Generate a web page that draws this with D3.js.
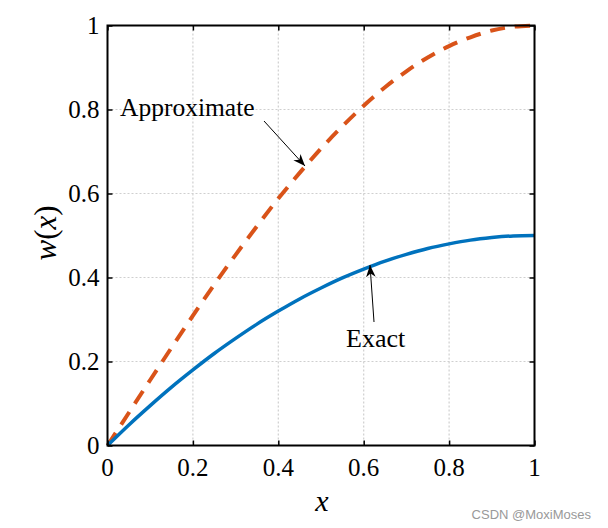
<!DOCTYPE html>
<html><head><meta charset="utf-8">
<script src="https://cdn.jsdelivr.net/npm/d3@7"></script>
<style>html,body{margin:0;padding:0;background:#fff;}</style>
</head><body>
<svg id="c" width="608" height="528"></svg>
<script>
const xVals = [0,0.05,0.1,0.15,0.2,0.25,0.3,0.35,0.4,0.45,0.5,0.55,0.6,0.65,0.7,0.75,0.8,0.85,0.9,0.95,1];
const exactVals = [0,0.049,0.095,0.139,0.18,0.219,0.255,0.289,0.32,0.349,0.375,0.399,0.42,0.439,0.455,0.469,0.48,0.489,0.495,0.499,0.5];
const approxVals = [0,0.078,0.156,0.233,0.309,0.383,0.454,0.522,0.588,0.649,0.707,0.76,0.809,0.853,0.891,0.924,0.951,0.972,0.988,0.997,1];
const xTicks = [0,0.2,0.4,0.6,0.8,1];
const yTicks = [0,0.2,0.4,0.6,0.8,1];
const tickLabels = ["0","0.2","0.4","0.6","0.8","1"];

const svg = d3.select("#c");
const L=107.5, R=534.5, T=25.5, B=445.5;
const x = d3.scaleLinear().domain([0,1]).range([L,R]);
const y = d3.scaleLinear().domain([0,1]).range([B,T]);
const serif = "Liberation Serif, DejaVu Serif, serif";

// grid
const g = svg.append("g");
g.selectAll(".gx").data(xTicks.slice(1,-1)).join("line")
  .attr("x1",d=>x(d)).attr("x2",d=>x(d)).attr("y1",T).attr("y2",B)
  .attr("stroke","#cfcfcf").attr("stroke-width",1.2).attr("stroke-dasharray","2,2");
g.selectAll(".gy").data(yTicks.slice(1,-1)).join("line")
  .attr("y1",d=>y(d)).attr("y2",d=>y(d)).attr("x1",L).attr("x2",R)
  .attr("stroke","#cfcfcf").attr("stroke-width",1.2).attr("stroke-dasharray","2,2");

// lines
const line = (vals)=>d3.line().x((d,i)=>x(xVals[i])).y(d=>y(d)).curve(d3.curveCatmullRom)(vals);
svg.append("path").attr("d",line(approxVals)).attr("fill","none")
  .attr("stroke","#D95319").attr("stroke-width",4).attr("stroke-dasharray","15,10");
svg.append("path").attr("d",line(exactVals)).attr("fill","none")
  .attr("stroke","#0072BD").attr("stroke-width",3.5);

// axes
const ax = (gen, tr) => {
  const a = svg.append("g").attr("transform",tr).call(gen);
  a.select(".domain").remove();
  a.selectAll("line").attr("stroke","#000").attr("stroke-width",1.5);
  a.selectAll("text").remove();
  return a;
};
ax(d3.axisBottom(x).tickValues(xTicks).tickSize(-5), `translate(0,${B})`);
ax(d3.axisTop(x).tickValues(xTicks).tickSize(-5), `translate(0,${T})`);
ax(d3.axisLeft(y).tickValues(yTicks).tickSize(-5), `translate(${L},0)`);
ax(d3.axisRight(y).tickValues(yTicks).tickSize(-5), `translate(${R},0)`);
svg.append("rect").attr("x",L).attr("y",T).attr("width",R-L).attr("height",B-T)
  .attr("fill","none").attr("stroke","#000").attr("stroke-width",2);

// tick labels
svg.selectAll(".xl").data(xTicks).join("text")
  .attr("x",d=>x(d)).attr("y",B+30).attr("text-anchor","middle")
  .attr("font-family",serif).attr("font-size",25).text((d,i)=>tickLabels[i]);
svg.selectAll(".yl").data(yTicks).join("text")
  .attr("x",L-8).attr("y",d=>y(d)+8).attr("text-anchor","end")
  .attr("font-family",serif).attr("font-size",25).text((d,i)=>tickLabels[i]);

// axis titles
svg.append("text").attr("x",322).attr("y",511).attr("text-anchor","middle")
  .attr("font-family",serif).attr("font-style","italic").attr("font-size",30).text("x");
svg.append("text").attr("transform","translate(56,233) rotate(-90)").attr("text-anchor","middle")
  .attr("font-family",serif).attr("font-size",31)
  .html("<tspan font-style='italic'>w</tspan>(<tspan font-style='italic'>x</tspan>)");

// annotations
const defs = svg.append("defs");
defs.append("marker").attr("id","ah").attr("viewBox","0 0 10 10").attr("refX",10).attr("refY",5)
  .attr("markerWidth",12).attr("markerHeight",12).attr("markerUnits","userSpaceOnUse").attr("orient","auto")
  .append("path").attr("d","M0,1 L10,5 L0,9 L3,5 Z").attr("fill","#000");
svg.append("text").attr("x",120).attr("y",116).attr("font-family",serif).attr("font-size",25.5).text("Approximate");
svg.append("line").attr("x1",264).attr("y1",121).attr("x2",305).attr("y2",166)
  .attr("stroke","#000").attr("stroke-width",1).attr("marker-end","url(#ah)");
svg.append("text").attr("x",346).attr("y",347).attr("font-family",serif).attr("font-size",26).text("Exact");
svg.append("line").attr("x1",374).attr("y1",322).attr("x2",370).attr("y2",265)
  .attr("stroke","#000").attr("stroke-width",1).attr("marker-end","url(#ah)");

// watermark
svg.append("text").attr("x",591).attr("y",519).attr("text-anchor","end")
  .attr("font-family","Liberation Sans, Arial, sans-serif").attr("font-size",13).attr("fill","#999")
  .text("CSDN @MoxiMoses");
</script>
</body></html>
